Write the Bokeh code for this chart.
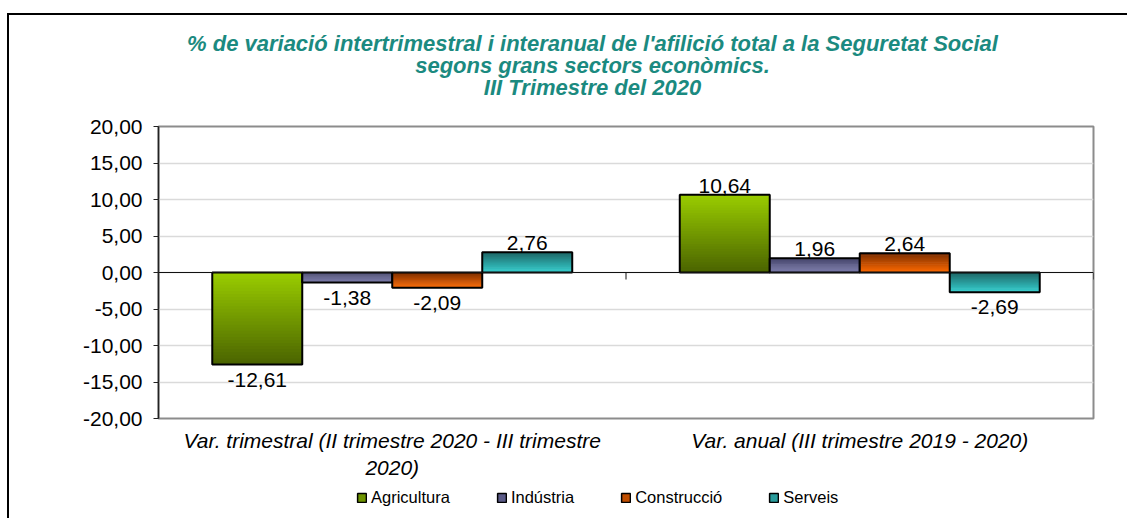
from bokeh.plotting import figure
from bokeh.layouts import column
from bokeh.models import (Range1d, FixedTicker, Span, Legend, LegendItem,
                          ColumnDataSource, LabelSet)
from bokeh.core.properties import value
from bokeh.embed import file_html
from bokeh.resources import INLINE

# ---------------- data ----------------
title_lines = [
    "% de variació intertrimestral i interanual de l'afilició total a la Seguretat Social",
    "segons grans sectors econòmics.",
    "III Trimestre del 2020",
]
categories = [
    "Var. trimestral (II trimestre 2020 - III trimestre\n2020)",
    "Var. anual (III trimestre 2019 - 2020)",
]
series_names = ["Agricultura", "Indústria", "Construcció", "Serveis"]
agricultura = [-12.61, 10.64]
industria = [-1.38, 1.96]
construccio = [-2.09, 2.64]
serveis = [2.76, -2.69]
y_ticks = [-20, -15, -10, -5, 0, 5, 10, 15, 20]

series_values = [agricultura, industria, construccio, serveis]
# (top colour, bottom colour) of each gradient
series_colors = [
    ("#9ACD00", "#4A6300"),
    ("#45456A", "#7C7CAC"),
    ("#7A2E00", "#FF6A00"),
    ("#1E6666", "#35CFCF"),
]
legend_colors = ["#6E9400", "#5B5B88", "#C04E00", "#2A9C9C"]

FONT = "Liberation Sans"
NAN = float("nan")

# ---------------- layout constants ----------------
ML, MR, MT, MB = 149, 34, 21, 64
FW, FH = 935, 292
TH = 90                       # title strip height
LH = 36                       # legend strip height
Y0, Y1 = -20, 20
X0, X1 = 0, 2

# ---------------- title strip ----------------
pt = figure(frame_width=FW, height=TH, output_backend="svg", toolbar_location=None,
            x_range=Range1d(0, FW), y_range=Range1d(TH, 0),
            x_axis_type=None, y_axis_type=None,
            min_border_left=ML, min_border_right=MR, min_border_top=0, min_border_bottom=0)
pt.outline_line_color = None
pt.grid.visible = False
title_x = 434
pt.text(x=[title_x] * len(title_lines), y=[28 + 22 * i for i in range(len(title_lines))],
        text=title_lines, text_align="center", text_baseline="middle",
        text_font=value(FONT), text_font_size="22px",
        text_font_style=value("bold italic"), text_color="#1B8A80")

# ---------------- main figure ----------------
p = figure(frame_width=FW, frame_height=FH, output_backend="svg", toolbar_location=None,
           x_range=Range1d(X0, X1), y_range=Range1d(Y0, Y1),
           min_border_left=ML, min_border_right=MR, min_border_top=MT,
           min_border_bottom=MB)
p.background_fill_color = "white"
p.border_fill_color = "white"
p.outline_line_color = "#8C8C8C"
p.outline_line_width = 2

p.xgrid.grid_line_color = None
p.ygrid.grid_line_color = "#DADADA"
p.ygrid.grid_line_width = 1.5
p.ygrid.ticker = FixedTicker(ticks=y_ticks)

p.yaxis.ticker = FixedTicker(ticks=y_ticks)
p.yaxis.major_label_overrides = {t: f"{t:.2f}".replace(".", ",") for t in y_ticks}
p.yaxis.major_label_text_font = FONT
p.yaxis.major_label_text_font_size = "21px"
p.yaxis.major_label_text_color = "black"
p.yaxis.axis_line_color = "#222222"
p.yaxis.axis_line_width = 1.5
p.yaxis.major_tick_in = 0
p.yaxis.major_tick_out = 5
p.yaxis.major_tick_line_color = "#222222"
p.yaxis.minor_tick_line_color = None
p.yaxis.major_label_standoff = 11

n_cat = len(categories)
cat_x = [i + 0.5 for i in range(n_cat)]
p.xaxis.ticker = FixedTicker(ticks=cat_x)
p.xaxis.major_label_overrides = {x: c for x, c in zip(cat_x, categories)}
p.xaxis.major_label_text_font = FONT
p.xaxis.major_label_text_font_style = "italic"
p.xaxis.major_label_text_font_size = "21px"
p.xaxis.major_label_text_color = "black"
p.xaxis.axis_line_color = None
p.xaxis.major_tick_line_color = None
p.xaxis.minor_tick_line_color = None
p.xaxis.major_label_standoff = 4

# ---------------- bars ----------------
bar_w = 0.77 / len(series_names)
N = 30

def hex2rgb(h):
    h = h.lstrip("#")
    return tuple(int(h[i:i + 2], 16) for i in (0, 2, 4))

def mix(c_bottom, c_top, t):
    a, b = hex2rgb(c_bottom), hex2rgb(c_top)
    return "#%02x%02x%02x" % tuple(round(a[i] + (b[i] - a[i]) * t) for i in range(3))

pos_lbl = dict(x=[], y=[], t=[])
neg_lbl = dict(x=[], y=[], t=[])
for s, (name, vals, (ctop, cbot)) in enumerate(zip(series_names, series_values, series_colors)):
    off = (s - (len(series_names) - 1) / 2) * bar_w
    xs = [c + off for c in cat_x]
    bl, br, bb, bt, bc = [], [], [], [], []
    for x, v in zip(xs, vals):
        lo, hi = min(0, v), max(0, v)
        h = (hi - lo) / N
        for k in range(N):
            bl.append(x - bar_w / 2)
            br.append(x + bar_w / 2)
            bb.append(lo + k * h)
            bt.append(lo + (k + 2) * h if k < N - 1 else hi)
            bc.append(mix(cbot, ctop, (k + 0.5) / N))
        d = pos_lbl if v >= 0 else neg_lbl
        d["x"].append(x)
        d["y"].append(v)
        d["t"].append(f"{v:.2f}".replace(".", ","))
    p.quad(left=bl, right=br, bottom=bb, top=bt, fill_color=bc, line_color=None)
    p.quad(left=[x - bar_w / 2 for x in xs], right=[x + bar_w / 2 for x in xs],
           bottom=[min(0, v) for v in vals], top=[max(0, v) for v in vals],
           fill_color=None, line_color="black", line_width=2)

# category axis at zero, with tick marks between categories
p.add_layout(Span(location=0, dimension="width", line_color="#111111", line_width=1))
bounds = list(range(1, n_cat + 1))
tick_len = 7 * (Y1 - Y0) / FH
p.segment(x0=bounds, y0=[0] * len(bounds), x1=bounds, y1=[-tick_len] * len(bounds),
          line_color="#111111", line_width=1)

p.add_layout(LabelSet(x="x", y="y", text="t", source=ColumnDataSource(pos_lbl),
                      text_align="center", text_baseline="bottom", y_offset=2,
                      text_font=value(FONT), text_font_size="21px",
                      text_color="black"))
p.add_layout(LabelSet(x="x", y="y", text="t", source=ColumnDataSource(neg_lbl),
                      text_align="center", text_baseline="top", y_offset=-8,
                      text_font=value(FONT), text_font_size="21px",
                      text_color="black"))

# ---------------- legend strip ----------------
pl = figure(frame_width=FW, height=LH, output_backend="svg", toolbar_location=None,
            x_range=Range1d(0, FW), y_range=Range1d(0, LH),
            x_axis_type=None, y_axis_type=None,
            min_border_left=ML, min_border_right=MR, min_border_top=0, min_border_bottom=0)
pl.outline_line_color = None
pl.grid.visible = False
legend_items = []
for s, name in enumerate(series_names):
    r = pl.quad(left=[NAN], right=[NAN], top=[NAN], bottom=[NAN],
                fill_color=legend_colors[s], line_color="black", line_width=1.5)
    legend_items.append(LegendItem(label=name, renderers=[r]))
legend = Legend(items=legend_items, orientation="horizontal", location=(198, 11),
                label_text_font=FONT, label_text_font_size="16.5px",
                label_text_color="black",
                glyph_width=11, glyph_height=11, label_standoff=4, spacing=46,
                padding=0, margin=0, border_line_color=None, background_fill_alpha=0)
pl.add_layout(legend, "center")

layout = column(pt, p, pl, spacing=0,
                styles={"margin-left": "7px", "margin-top": "13px",
                        "border-left": "2px solid black", "border-top": "2px solid black"})

open("out.html", "w").write(file_html(layout, INLINE))
